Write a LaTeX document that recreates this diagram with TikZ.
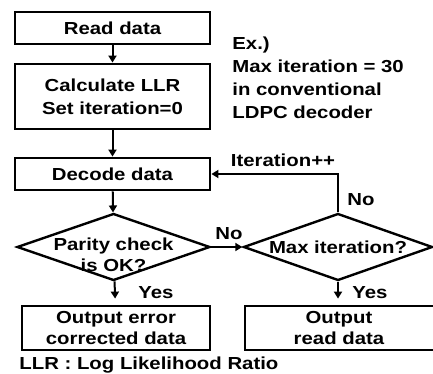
\documentclass[tikz,border=0pt]{standalone}
\usepackage{fontspec}
\setmainfont{Liberation Sans}[FakeStretch=1.17]
\usetikzlibrary{shapes.geometric,arrows.meta}

\begin{document}
\begin{tikzpicture}[x=0.5pt, y=-0.5pt, >={Triangle[length=3.5pt,width=4pt]},
    font=\fontsize{8.7}{10.5}\selectfont\bfseries]
    \tikzset{block/.style = {shape=rectangle, draw, line width=1.4pt, inner sep=0pt},
             decision/.style = {shape=diamond, draw, line width=1.2pt, inner sep=0pt},
             txt/.style = {inner sep=0pt, align=center},
             flow/.style = {->, line width=1pt}}

    \useasboundingbox (0,0) rectangle (433,374);

    % left column
    \node[block, minimum width=97.5pt, minimum height=16pt] (read) at (112.5,28) {Read data};
    \node[block, minimum width=97.5pt, minimum height=32.5pt, align=center,
          font=\fontsize{8.7}{11.5}\selectfont\bfseries] (calc) at (112.5,96.5)
          {Calculate LLR\\Set iteration=0};
    \node[block, minimum width=97.5pt, minimum height=16pt] (decode) at (112.5,174) {Decode data};

    \node[decision, minimum width=96.5pt, minimum height=33.5pt] (parity) at (113.5,247) {};
    \node[txt] (paritytext) at (113.5,255) {Parity check\\is OK?};

    \node[block, minimum width=94pt, minimum height=22pt, align=center] (outerr) at (116,328)
          {Output error\\corrected data};

    % right column
    \node[decision, minimum width=94.5pt, minimum height=33.5pt] (maxit) at (338,247) {};
    \node[txt] (maxittext) at (338,247) {Max iteration?};

    \node[block, minimum width=96pt, minimum height=22pt] (outread) at (341,328) {};
    \node[txt] (outreadtext) at (339,328) {Output\\read data};

    % notes
    \node[txt, align=left, anchor=north west, font=\fontsize{8.7}{11.5}\selectfont\bfseries]
          (note) at (232,36) {Ex.)\\Max iteration = 30\\in conventional\\LDPC decoder};
    \node[txt, anchor=west] (abbr) at (19,365) {LLR : Log Likelihood Ratio};

    % connectors
    \draw[flow] (read) -- (calc);
    \draw[flow] (calc) -- (decode);
    \draw[flow] (decode) -- (parity);
    \draw[flow, shorten >=3pt] (parity) -- (outerr);
    \draw[flow] (parity) -- (maxit);
    \draw[flow, shorten >=3pt] (maxit.south) -- (maxit.south |- outread.north);
    \draw[flow] (maxit.north) |- (decode.east);

    % labels
    \node[txt] (iterlbl) at (283,160) {Iteration++};
    \node[txt] (no1) at (229,234) {No};
    \node[txt] (no2) at (361,200) {No};
    \node[txt] (yes1) at (156,293) {Yes};
    \node[txt] (yes2) at (370,293) {Yes};
\end{tikzpicture}
\end{document}
